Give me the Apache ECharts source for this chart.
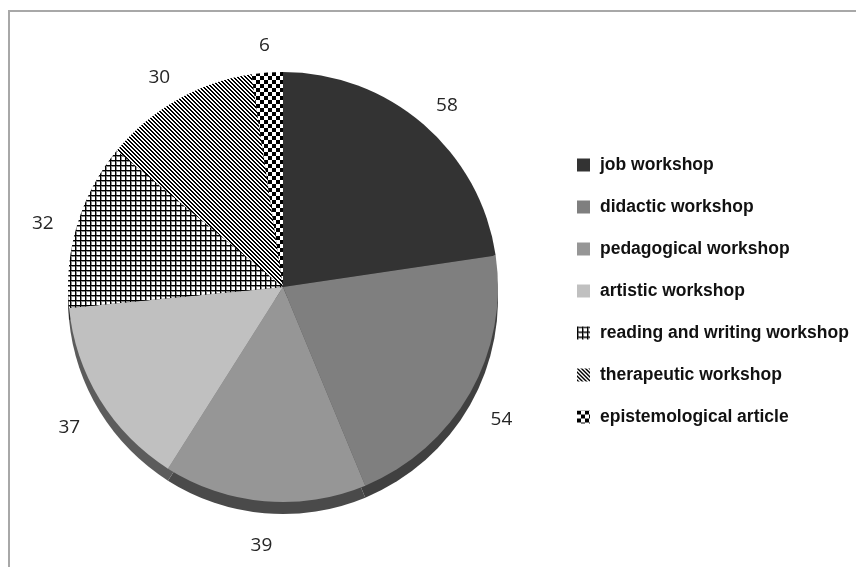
<!DOCTYPE html>
<html>
<head>
<meta charset="utf-8">
<script src="https://cdn.jsdelivr.net/npm/echarts@6/dist/echarts.min.js"></script>
<style>html,body{margin:0;padding:0;background:#fff}#c{width:856px;height:567px}</style>
</head>
<body>
<div id="c"></div>
<script>
const categories = ['job workshop','didactic workshop','pedagogical workshop','artistic workshop','reading and writing workshop','therapeutic workshop','epistemological article'];
const values = [58,54,39,37,32,30,6];

function makeCanvas(w, h, draw) {
  const c = document.createElement('canvas');
  c.width = w; c.height = h;
  const ctx = c.getContext('2d');
  ctx.fillStyle = '#ffffff'; ctx.fillRect(0,0,w,h);
  draw(ctx);
  return c;
}
const gridPat = makeCanvas(5,5,ctx=>{
  ctx.fillStyle = '#8a8a8a'; ctx.fillRect(0,1,5,1); ctx.fillRect(1,0,1,5);
  ctx.fillStyle = '#000'; ctx.fillRect(0,0,5,1); ctx.fillRect(0,0,1,5);
});
const stripePat = makeCanvas(4,4,ctx=>{ ctx.fillStyle='#000'; for(let i=0;i<4;i++){ ctx.fillRect(i,i,1,1); ctx.fillRect((i+1)%4,i,1,1);} });
const checkPat = makeCanvas(8,8,ctx=>{ ctx.fillStyle='#000'; ctx.fillRect(0,0,4,4); ctx.fillRect(4,4,4,4); });

const faceColors = ['#333333','#7f7f7f','#969696','#c0c0c0',
  {image: gridPat, repeat:'repeat'}, {image: stripePat, repeat:'repeat'}, {image: checkPat, repeat:'repeat'}];
const rimColors = ['#1f1f1f','#404040','#4a4a4a','#5c5c5c','#2a2a2a','#2a2a2a','#2a2a2a'];

const chart = echarts.init(document.getElementById('c'), null, {renderer:'canvas'});
const faceData = categories.map((n,i)=>({name:n, value:values[i], itemStyle:{color:faceColors[i]}}));
const rimData = categories.map((n,i)=>({name:n, value:values[i], itemStyle:{color:rimColors[i]}}));
const labelData = categories.map((n,i)=>({name:n, value:values[i]}));

chart.setOption({
  animation:false,
  backgroundColor:'#ffffff',
  graphic:[{type:'rect', shape:{x:9,y:11,width:900,height:620}, style:{fill:'none', stroke:'#a8a8a8', lineWidth:2}, z:0}],
  legend:{
    data:categories, orient:'vertical', left:577, top:156, padding:0, itemGap:24, icon:'rect',
    itemWidth:13, itemHeight:13, selectedMode:false,
    textStyle:{fontFamily:'Liberation Sans', fontWeight:'bold', fontSize:17.5, color:'#111', padding:[0,0,0,5]}
  },
  series:[
    {type:'pie', name:'face', center:[283,287], radius:215, startAngle:90, clockwise:true, z:3, silent:true,
     data:faceData, label:{show:false}, labelLine:{show:false}, itemStyle:{borderWidth:0}, emphasis:{disabled:true}},
    {type:'pie', name:'rim', center:[283,299], radius:215, startAngle:90, clockwise:true, z:2, silent:true,
     data:rimData, label:{show:false}, labelLine:{show:false}, itemStyle:{borderWidth:0}, emphasis:{disabled:true}},
    {type:'pie', name:'labels', center:[283,296], radius:[236,260], startAngle:90, clockwise:true, z:4, silent:true,
     data:labelData, itemStyle:{color:'rgba(0,0,0,0)', borderWidth:0}, emphasis:{disabled:true},
     label:{show:true, position:'inside', formatter:'{c}', fontFamily:'Open Sans', fontSize:19, color:'#262626'},
     labelLine:{show:false}}
  ]
});
</script>
</body>
</html>
